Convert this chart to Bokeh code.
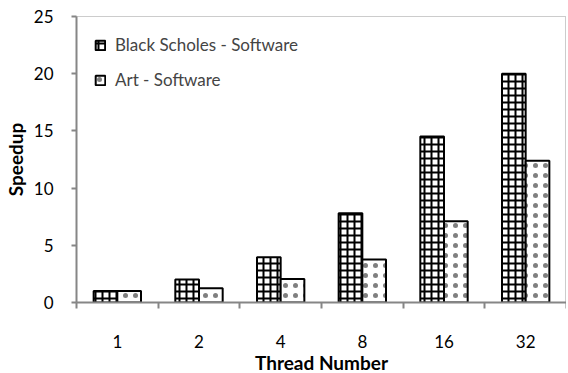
from bokeh.plotting import figure
from bokeh.models import ColumnDataSource, FixedTicker, Range1d, Legend, LegendItem
from bokeh.transform import dodge
from bokeh.embed import file_html
from bokeh.resources import INLINE

threads = ["1", "2", "4", "8", "16", "32"]
black_scholes = [1.0, 2.0, 3.95, 7.8, 14.5, 20.0]
art = [1.0, 1.25, 2.05, 3.75, 7.1, 12.4]
y_ticks = [0, 5, 10, 15, 20, 25]

xs = [i + 0.5 for i in range(len(threads))]
src = ColumnDataSource(dict(x=xs, bs=black_scholes, art=art))

FONT = "Lato"

p = figure(width=566, height=376, output_backend="svg", toolbar_location=None,
           x_range=Range1d(0, len(threads)), y_range=Range1d(0, 25),
           min_border_left=66, min_border_right=0, min_border_top=16, min_border_bottom=40)

bw = 0.29
r1 = p.vbar(x=dodge("x", -bw / 2), top="bs", width=bw, source=src,
            fill_color="white", line_color="black", line_width=2,
            hatch_pattern="+", hatch_color="black", hatch_scale=7, hatch_weight=2)
r2 = p.vbar(x=dodge("x", bw / 2), top="art", width=bw, source=src,
            fill_color="white", line_color="black", line_width=2,
            hatch_pattern=".", hatch_color="#808080", hatch_scale=10, hatch_weight=0.3)

legend = Legend(items=[LegendItem(label="Black Scholes - Software", renderers=[r1]),
                       LegendItem(label="Art - Software", renderers=[r2])],
                location="top_left")
legend.background_fill_alpha = 0
legend.border_line_color = None
legend.label_text_font = FONT
legend.label_text_font_size = "17px"
legend.glyph_width = 12
legend.glyph_height = 12
legend.spacing = 14
legend.label_standoff = 9
legend.margin = 18
legend.padding = 12
p.add_layout(legend)

p.grid.visible = False
p.outline_line_color = "#999999"
p.outline_line_dash = "1 1"
p.background_fill_color = "white"
p.border_fill_color = "white"

# x axis
p.xaxis.ticker = FixedTicker(ticks=xs, minor_ticks=list(range(len(threads) + 1)))
p.xaxis.major_label_overrides = {x: t for x, t in zip(xs, threads)}
p.xaxis.major_tick_line_color = None
p.xaxis.major_tick_out = 0
p.xaxis.major_tick_in = 0
p.xaxis.minor_tick_line_color = "#868686"
p.xaxis.minor_tick_line_width = 2
p.xaxis.minor_tick_out = 6
p.xaxis.minor_tick_in = 0
p.xaxis.major_label_standoff = 26
p.xaxis.axis_label = "Thread Number"
p.xaxis.axis_label_standoff = 0

# y axis
p.yaxis.ticker = FixedTicker(ticks=y_ticks)
p.yaxis.minor_tick_line_color = None
p.yaxis.major_tick_line_color = "#868686"
p.yaxis.major_tick_line_width = 2
p.yaxis.major_tick_out = 5
p.yaxis.major_tick_in = 0
p.yaxis.major_label_standoff = 18
p.yaxis.axis_label = "Speedup"
p.yaxis.axis_label_standoff = 4

for ax in (p.xaxis, p.yaxis):
    ax.axis_line_color = "#868686"
    ax.axis_line_width = 2
    ax.major_label_text_font = FONT
    ax.major_label_text_font_size = "17px"
    ax.major_label_text_color = "black"
    ax.axis_label_text_font = FONT
    ax.axis_label_text_font_size = "19px"
    ax.axis_label_text_font_style = "bold"
    ax.axis_label_text_color = "black"

open("out.html", "w").write(file_html(p, INLINE))
